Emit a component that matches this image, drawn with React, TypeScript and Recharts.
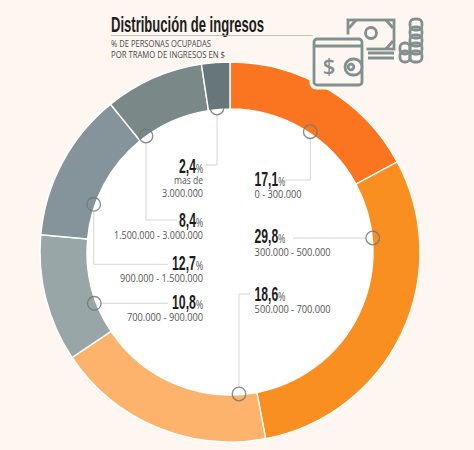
import { PieChart, Pie, Cell } from 'recharts';

const BG = '#fdf6f1';

const ranges = [
  ['0 - 300.000'],
  ['300.000 - 500.000'],
  ['500.000 - 700.000'],
  ['700.000 - 900.000'],
  ['900.000 - 1.500.000'],
  ['1.500.000 - 3.000.000'],
  ['mas de', '3.000.000'],
];
const shares = [17.1, 29.8, 18.6, 10.8, 12.7, 8.4, 2.4];
const colors = ['#fb7420', '#f98f21', '#fdb36b', '#98a6a8', '#85949a', '#7a8888', '#677679'];

const data = shares.map((value, i) => ({ name: ranges[i].join(' '), value }));
const innerDisc = [{ name: 'centro', value: 1 }];

// callout layout, same order as the slices
const callouts = [
  { ring: [310.3, 131.7], path: '310.3,139 310.3,180 285,180', x: 254.6, side: 'start', base: 185.7, subs: [198], numW: 30.7, subW: [47] },
  { ring: [372.7, 238], path: '293,238 365,238', x: 254.6, side: 'start', base: 243, subs: [255.6], numW: 30.7, subW: [76] },
  { ring: [239, 394], path: '239,387 239,294 250,294', x: 254.6, side: 'start', base: 300.7, subs: [312.7], numW: 30.7, subW: [76] },
  { ring: [94.3, 303.3], path: '101.5,303.3 168,303.3', x: 203, side: 'end', base: 309, subs: [321], numW: 31, subW: [76] },
  { ring: [93.7, 204.3], path: '93.7,211.5 93.7,264.3 168,264.3', x: 203, side: 'end', base: 270, subs: [281.5], numW: 31, subW: [83] },
  { ring: [146, 136], path: '146,143 146,220 177,220', x: 203, side: 'end', base: 227, subs: [239], numW: 24, subW: [89] },
  { ring: [217, 108], path: '217,115 217,165 206,165', x: 203, side: 'end', base: 172.7, subs: [184, 196.7], numW: 24, subW: [29, 41] },
];

function Callout({ index }: { index: number }) {
  const c = callouts[index];
  const label = shares[index].toFixed(1).replace('.', ',');
  return (
    <g>
      <polyline points={c.path} fill="none" stroke="#d6d6d6" strokeWidth={1} />
      <circle cx={c.ring[0]} cy={c.ring[1]} r={6.8} fill="none" stroke="#6f7878" strokeWidth={1.3} strokeOpacity={0.85} />
      <text
        x={c.side === 'start' ? c.x : c.x - c.numW}
        y={c.base}
        fontFamily="'Liberation Sans Narrow', 'Liberation Sans', sans-serif"
        fontWeight={700}
        fontSize={20}
        fill="#1d1d1b"
        textLength={c.numW}
        lengthAdjust="spacingAndGlyphs"
      >
        {label}
        <tspan fontSize={13} fontWeight={400} fill="#4a4a48">%</tspan>
      </text>
      {ranges[index].map((line, i) => (
        <text key={line} x={c.x} y={c.subs[i]} textAnchor={c.side as 'start' | 'end'} fontFamily="'Open Sans', sans-serif" fontSize={10.5} fill="#555555" textLength={c.subW[i]} lengthAdjust="spacingAndGlyphs">
          {line}
        </text>
      ))}
    </g>
  );
}

function MoneyIcon() {
  const ink = '#80918f';
  const coinsA = [19, 27, 35, 43, 51];
  const coinsB = [43, 51];
  return (
    <g fill="none" stroke={ink} strokeWidth={2.8}>
      {/* billete */}
      <rect x={348} y={20} width={46} height={29} />
      <circle cx={371} cy={33} r={5.5} />
      <path d="M349 28 L356 20 M393 28 L386 20 M393 41 L386 49" />
      <path d="M368 53 H394 M368 58 H394" />
      {/* monedas */}
      {coinsA.map((y) => (
        <rect key={y} x={410} y={y} width={12} height={11} rx={4.5} />
      ))}
      {coinsB.map((y) => (
        <rect key={y} x={400} y={y} width={10} height={11} rx={4.5} />
      ))}
      {/* billetera */}
      <rect x={311} y={36} width={54} height={52} rx={5} fill={BG} stroke={BG} strokeWidth={3} />
      <rect x={314} y={39} width={48} height={46} rx={3} />
      <path d="M314 46 H362" />
      <rect x={345} y={59} width={17} height={16} rx={8} fill={BG} />
      <circle cx={351} cy={67} r={2.8} />
      <text x={329} y={74} textAnchor="middle" fontFamily="'Open Sans', sans-serif" fontWeight={600} fontSize={22} fill={ink} stroke="none">
        $
      </text>
    </g>
  );
}

export default function App() {
  return (
    <div style={{ position: 'absolute', left: 0, top: 0, width: 474, height: 450, background: BG, overflow: 'hidden' }}>
      <PieChart width={474} height={450} margin={{ top: 0, right: 0, bottom: 0, left: 0 }}>
        <Pie
          data={data}
          dataKey="value"
          cx={230}
          cy={252}
          innerRadius={143}
          outerRadius={190}
          startAngle={90}
          endAngle={-270}
          stroke="#ffffff"
          strokeWidth={1.4}
          isAnimationActive={false}
        >
          {data.map((d, i) => (
            <Cell key={d.name} fill={colors[i]} />
          ))}
        </Pie>
        <Pie
          data={innerDisc}
          dataKey="value"
          cx={230}
          cy={252}
          innerRadius={0}
          outerRadius={143}
          fill="#ffffff"
          stroke="none"
          isAnimationActive={false}
        />
      </PieChart>
      <svg width={474} height={450} style={{ position: 'absolute', left: 0, top: 0 }}>
        <text x={111} y={31.5} fontFamily="'Liberation Sans Narrow', 'Liberation Sans', sans-serif" fontWeight={700} fontSize={22} fill="#1d1d1b" textLength={153} lengthAdjust="spacingAndGlyphs">
          Distribución de ingresos
        </text>
        <line x1={111} y1={35.5} x2={316} y2={35.5} stroke="#b5b5b0" strokeWidth={0.8} />
        <text x={111} y={47} fontFamily="'Open Sans', sans-serif" fontSize={9} fill="#4b4b4b" textLength={100} lengthAdjust="spacingAndGlyphs">
          % DE PERSONAS OCUPADAS
        </text>
        <text x={111} y={58} fontFamily="'Open Sans', sans-serif" fontSize={9} fill="#4b4b4b" textLength={114} lengthAdjust="spacingAndGlyphs">
          POR TRAMO DE INGRESOS EN $
        </text>
        <MoneyIcon />
        {callouts.map((_, i) => (
          <Callout key={i} index={i} />
        ))}
      </svg>
    </div>
  );
}
